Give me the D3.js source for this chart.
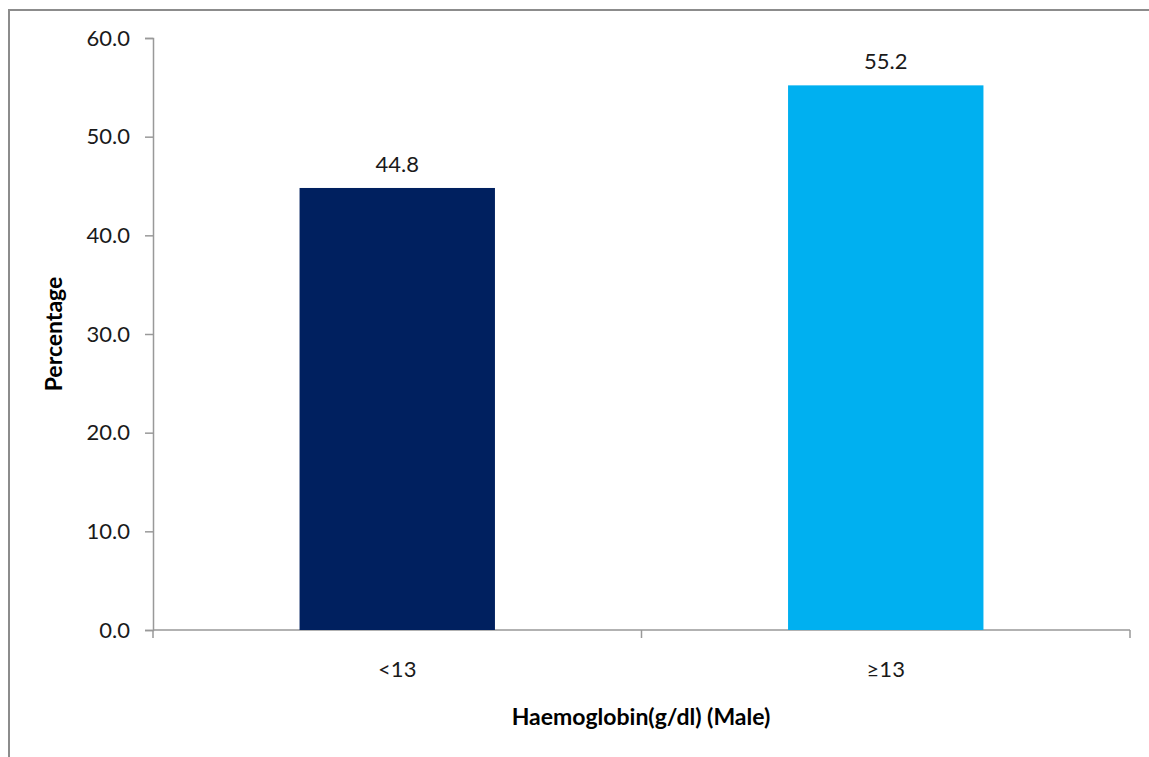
<!DOCTYPE html>
<html>
<head>
<meta charset="utf-8">
<script src="https://cdn.jsdelivr.net/npm/d3@7"></script>
<style>
  body { margin: 0; background: #fff; }
  .txt { font-family: Lato, "Open Sans", sans-serif; font-size: 22px; fill: #1a1a1a; }
  .lab { font-family: Lato, "Open Sans", sans-serif; font-weight: bold; font-size: 23px; fill: #000; }
</style>
</head>
<body>
<div id="plot"></div>
<script>
const categories = ["<13", "≥13"],
      values = [44.8, 55.2],
      colors = ["#00205f", "#00b0f0"],
      yTicks = [0, 10, 20, 30, 40, 50, 60]

const w = 1149,
      h = 757,
      margin = {top: 38, right: 19, bottom: 127, left: 153}

const svg = d3.select("#plot").append("svg")
  .attr("width", w)
  .attr("height", h)

// outer frame
svg.append("path")
  .attr("d", `M9,${h} L9,10 L${w},10`)
  .attr("fill", "none")
  .attr("stroke", "#8c8c8c")
  .attr("stroke-width", 2)

const xScale = d3.scaleBand()
        .domain(categories)
        .range([margin.left, w - margin.right])
        .paddingInner(0.6)
        .paddingOuter(0.3),
      yScale = d3.scaleLinear()
        .domain([0, 60])
        .range([h - margin.bottom, margin.top])

// y axis
const yAxis = svg.append("g")
  .attr("transform", `translate(${margin.left}, 0)`)
  .call(d3.axisLeft(yScale).tickValues(yTicks).tickFormat(d3.format(".1f")).tickSizeOuter(0).tickSize(8).tickPadding(15))
yAxis.selectAll("line, path").attr("stroke", "#999").attr("stroke-width", 1.5)
yAxis.selectAll("text").attr("class", "txt").attr("font-size", null).attr("font-family", null)
yAxis.attr("font-size", null).attr("font-family", null)

// x axis with ticks between categories
const x0 = margin.left, x1 = w - margin.right, y0 = yScale(0)
const xAxis = svg.append("g")
xAxis.append("line")
  .attr("x1", x0).attr("x2", x1).attr("y1", y0).attr("y2", y0)
  .attr("stroke", "#999").attr("stroke-width", 1.5)
;[x0, (x0 + x1) / 2, x1].forEach(x => {
  xAxis.append("line")
    .attr("x1", x).attr("x2", x).attr("y1", y0).attr("y2", y0 + 8)
    .attr("stroke", "#999").attr("stroke-width", 1.5)
})
xAxis.selectAll(".cat")
  .data(categories)
  .join("text")
  .attr("class", "txt")
  .attr("x", d => xScale(d) + xScale.bandwidth() / 2)
  .attr("y", y0 + 47)
  .attr("text-anchor", "middle")
  .text(d => d)

// bars
svg.selectAll(".bar")
  .data(values)
  .join("rect")
  .attr("class", "bar")
  .attr("x", (d, i) => xScale(categories[i]))
  .attr("y", d => yScale(d))
  .attr("width", xScale.bandwidth())
  .attr("height", d => yScale(0) - yScale(d))
  .attr("fill", (d, i) => colors[i])

// value labels
svg.selectAll(".val")
  .data(values)
  .join("text")
  .attr("class", "txt")
  .attr("x", (d, i) => xScale(categories[i]) + xScale.bandwidth() / 2)
  .attr("y", d => yScale(d) - 16)
  .attr("text-anchor", "middle")
  .text(d => d.toFixed(1))

// axis titles
svg.append("text")
  .attr("class", "lab")
  .attr("x", 641)
  .attr("y", 725)
  .attr("text-anchor", "middle")
  .text("Haemoglobin(g/dl) (Male)")

svg.append("text")
  .attr("class", "lab")
  .attr("transform", `translate(62, ${yScale(30)}) rotate(-90)`)
  .attr("text-anchor", "middle")
  .text("Percentage")
</script>
</body>
</html>
